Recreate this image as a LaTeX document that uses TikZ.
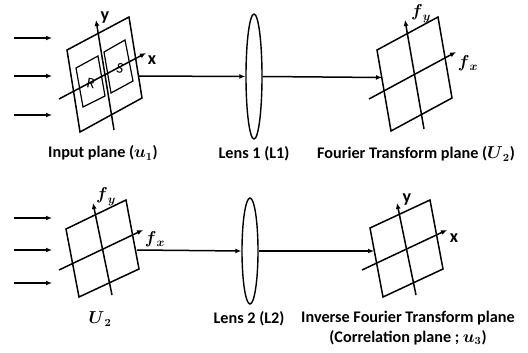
\documentclass[tikz,border=0pt]{standalone}
\usepackage{amsmath,amssymb}
\usepackage{fontspec}
\setmainfont{Carlito}
\usetikzlibrary{arrows.meta,shapes.geometric}
\begin{document}
\begin{tikzpicture}[x=1pt,y=-1pt,font=\bfseries\fontsize{16.2}{20}\selectfont,
  edge/.style={line width=1.5pt,line join=miter},
  ray/.style={line width=1.5pt,-{Latex[length=6pt,width=5pt]}},
  lens/.style={draw,line width=1.4pt,ellipse,inner sep=0pt,minimum width=16pt},
  caption/.style={align=center,inner sep=0pt},
  axislabel/.style={inner sep=0pt,font=\bfseries\fontsize{18}{20}\selectfont},
  spot/.style={inner sep=0pt,font=\fontsize{15}{17}\selectfont}]
  \useasboundingbox (0,0) rectangle (528,353);
  % lenses
  \node[lens,minimum height=125pt] (lensa) at (254,76.5) {};
  \node[lens,minimum height=106pt] (lensb) at (250,251) {};
  % incoming light
  \foreach \n/\yy in {a/38,b/76,c/115,d/218,e/250,f/283} {
    \coordinate (in\n) at (14,\yy);
    \coordinate (hit\n) at (52,\yy);
    \draw[ray] (in\n) -- (hit\n);
  }
  % planes: corners, then x and y axis
  \foreach \p/\ax/\ay/\bx/\by/\cx/\cy/\dx/\dy/\xax/\xay/\xbx/\xby/\yax/\yay/\ybx/\yby in {
    one/67/50/129/17/142/98/80/132/59/99/146/53/114/130/96/20,
    two/377/50/438/17/452/98/391/131/369/99/456/52/424/129/405/20,
    three/66/229/126/200/139/269/79/297/59/270/143/230/112/295/93/203,
    four/370/228/430/200/443/269/383/297/362/270/447/230/416/295/397/203} {
    \coordinate (\p a) at (\ax,\ay);
    \coordinate (\p b) at (\bx,\by);
    \coordinate (\p c) at (\cx,\cy);
    \coordinate (\p d) at (\dx,\dy);
    \coordinate (\p xs) at (\xax,\xay);
    \coordinate (\p xe) at (\xbx,\xby);
    \coordinate (\p ys) at (\yax,\yay);
    \coordinate (\p ye) at (\ybx,\yby);
    \draw[edge] (\p a) -- (\p b) -- (\p c) -- (\p d) -- cycle;
    \draw[ray] (\p xs) -- (\p xe);
    \draw[ray] (\p ys) -- (\p ye);
  }
  % R and S windows
  \draw[edge,line width=1.2pt] (76,68) -- (98,56) -- (105,96) -- (83,107) -- cycle;
  \draw[edge,line width=1.2pt] (104,52) -- (125,40) -- (133,81) -- (111,93) -- cycle;
  \node[spot,rotate=-10] (rlabel) at (91,83) {R};
  \node[spot,rotate=-10] (slabel) at (120,68) {S};
  % rays through the lenses
  \coordinate (outone) at (139,76);
  \coordinate (intwo) at (382,77.5);
  \coordinate (outthree) at (137,250);
  \coordinate (infour) at (374,251);
  \draw[ray] (outone) -- (lensa.west);
  \draw[ray] (lensa.east) -- (intwo);
  \draw[ray] (outthree) -- (lensb.west);
  \draw[ray] (lensb.east) -- (infour);
  % axis labels
  \node[axislabel] (xone) at (152,60) {x};
  \node[axislabel] (yone) at (105,18) {y};
  \node[axislabel] (fxtwo) at (468,63) {$\boldsymbol{f}_{\boldsymbol{x}}$};
  \node[axislabel] (fytwo) at (421,14) {$\boldsymbol{f}_{\boldsymbol{y}}$};
  \node[axislabel] (fxthree) at (155,239) {$\boldsymbol{f}_{\boldsymbol{x}}$};
  \node[axislabel] (fythree) at (106,197) {$\boldsymbol{f}_{\boldsymbol{y}}$};
  \node[axislabel] (xfour) at (454,238) {x};
  \node[axislabel] (yfour) at (407,200) {y};
  % captions
  \node[caption] (capa) at (103,153) {Input plane ($\boldsymbol{u}_{\boldsymbol{1}}$)};
  \node[caption] (capb) at (254,154) {Lens 1 (L1)};
  \node[caption] (capc) at (416,154) {Fourier Transform plane ($\boldsymbol{U}_{\boldsymbol{2}}$)};
  \node[caption] (capd) at (100,319) {$\boldsymbol{U}_{\boldsymbol{2}}$};
  \node[caption] (cape) at (249,319) {Lens 2 (L2)};
  \node[caption] (capf) at (408,328) {Inverse Fourier Transform plane\\(Correlation plane ; $\boldsymbol{u}_{\boldsymbol{3}}$)};
\end{tikzpicture}
\end{document}
